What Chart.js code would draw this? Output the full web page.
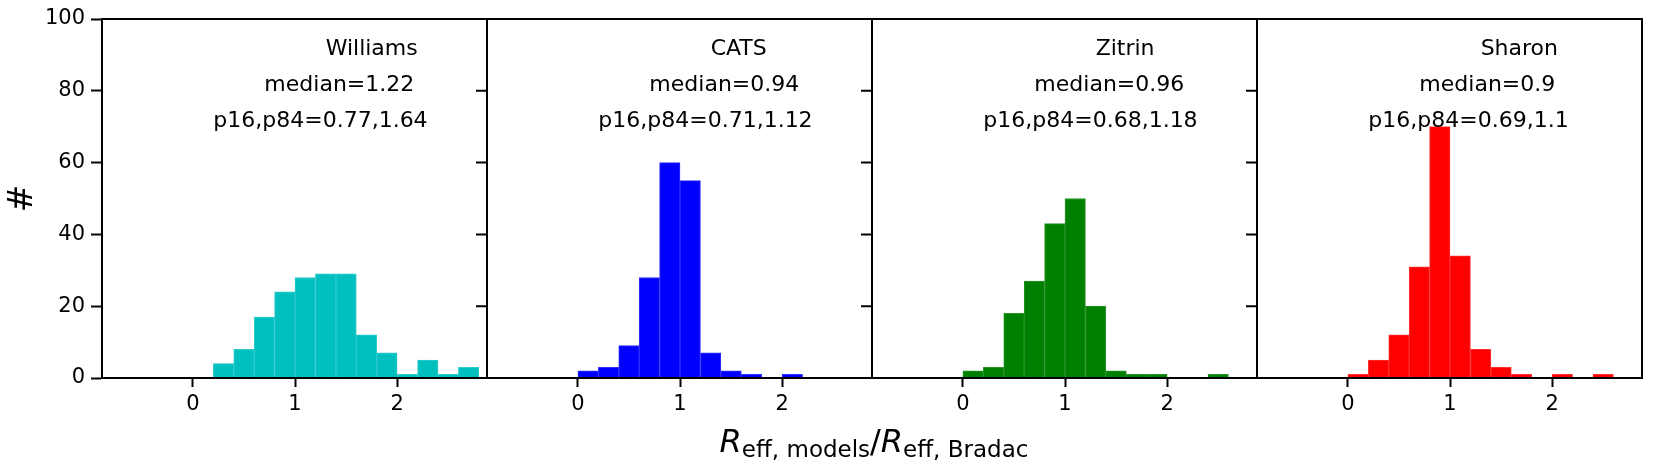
<!DOCTYPE html>
<html>
<head>
<meta charset="utf-8">
<script src="https://cdn.jsdelivr.net/npm/chart.js@4.4.1/dist/chart.umd.min.js"></script>
<style>
html,body{margin:0;padding:0;background:#fff;}
#wrap{width:1661px;height:468px;position:relative;}
</style>
</head>
<body>
<div id="wrap"><canvas id="c"></canvas></div>
<script>
// ---- data ----
const binCenters = [0.1, 0.3, 0.5, 0.7, 0.9, 1.1, 1.3, 1.5, 1.7, 1.9, 2.1, 2.3, 2.5, 2.7];
const williams = [0, 4, 8, 17, 24, 28, 29, 29, 12, 7, 1, 5, 1, 3];
const cats     = [2, 3, 9, 28, 60, 55, 7, 2, 1, 0, 1, 0, 0, 0];
const zitrin   = [2, 3, 18, 27, 43, 50, 20, 2, 1, 1, 0, 0, 1, 0];
const sharon   = [1, 5, 12, 31, 70, 34, 8, 3, 1, 0, 1, 0, 1, 0];
const panelNames = ['Williams', 'CATS', 'Zitrin', 'Sharon'];
const medianLabels = ['median=1.22', 'median=0.94', 'median=0.96', 'median=0.9'];
const pctLabels = ['p16,p84=0.77,1.64', 'p16,p84=0.71,1.12', 'p16,p84=0.68,1.18', 'p16,p84=0.69,1.1'];
const xTickValues = [0, 1, 2];
const yTickValues = [0, 20, 40, 60, 80, 100];
const seriesValues = [williams, cats, zitrin, sharon];

// ---- style ----
const panelColors = ['rgb(0,191,191)', 'rgb(0,0,255)', 'rgb(0,128,0)', 'rgb(255,0,0)'];
const seamColors = ['rgb(45,203,203)', 'rgb(50,50,255)', 'rgb(40,148,40)', 'rgb(255,50,50)'];
const FONT = "'DejaVu Sans', sans-serif";
const X_MIN = -0.89, X_MAX = 2.88;
const TEXT_POS = [{x: 1.3, y: 90}, {x: 0.7, y: 80}, {x: 0.2, y: 70}];

const datasets = seriesValues.map((vals, i) => ({
  label: panelNames[i],
  data: binCenters.map((x, j) => ({x: x, y: vals[j]})),
  xAxisID: 'x' + i,
  yAxisID: 'y',
  backgroundColor: panelColors[i],
  borderColor: seamColors[i],
  borderWidth: 1,
  barPercentage: 1,
  categoryPercentage: 1,
  grouped: false
}));

const scales = {
  y: {
    type: 'linear', position: 'left', min: 0, max: 100,
    afterBuildTicks: s => { s.ticks = yTickValues.map(v => ({value: v})); },
    ticks: {color: '#000', font: {family: FONT, size: 21}, padding: 6},
    grid: {drawOnChartArea: false, drawTicks: true, tickLength: 11, tickWidth: 2, tickColor: '#000'},
    border: {display: true, color: '#000', width: 2},
    title: {display: true, text: '#', color: '#000', font: {family: FONT, size: 33}, padding: {top: 4, bottom: 4}},
    afterFit: s => { s.width = 102; }
  }
};
for (let i = 0; i < 4; i++) {
  scales['x' + i] = {
    type: 'linear', position: 'bottom', stack: 'panels', stackWeight: 1,
    min: X_MIN, max: X_MAX, offset: false,
    afterBuildTicks: s => { s.ticks = xTickValues.map(v => ({value: v})); },
    ticks: {color: '#000', font: {family: FONT, size: 21}, padding: 5, maxRotation: 0, autoSkip: false},
    grid: {offset: false, drawOnChartArea: false, drawTicks: true, tickLength: 9, tickWidth: 2, tickColor: '#000'},
    border: {display: true, color: '#000', width: 2},
    afterFit: s => { s.height = 90; }
  };
}

const framePlugin = {
  id: 'frame',
  afterDatasetsDraw(chart) {
    const ctx = chart.ctx;
    const ys = chart.scales.y;
    const area = chart.chartArea;
    ctx.save();
    ctx.strokeStyle = '#000';
    ctx.lineWidth = 2;
    for (let i = 0; i < 4; i++) {
      const xs = chart.scales['x' + i];
      ctx.strokeRect(xs.left, area.top, xs.right - xs.left, area.bottom - area.top);
      if (i > 0) {
        ctx.beginPath();
        yTickValues.forEach(v => {
          const py = ys.getPixelForValue(v);
          ctx.moveTo(xs.left - 11, py);
          ctx.lineTo(xs.left, py);
        });
        ctx.stroke();
      }
    }
    ctx.fillStyle = '#000';
    ctx.font = '22px ' + FONT;
    ctx.textAlign = 'left';
    ctx.textBaseline = 'alphabetic';
    for (let i = 0; i < 4; i++) {
      const xs = chart.scales['x' + i];
      const texts = [panelNames[i], medianLabels[i], pctLabels[i]];
      texts.forEach((t, k) => {
        ctx.fillText(t, xs.getPixelForValue(TEXT_POS[k].x), ys.getPixelForValue(TEXT_POS[k].y));
      });
    }
    ctx.restore();
  },
  afterDraw(chart) {
    const ctx = chart.ctx;
    const area = chart.chartArea;
    const big = 'italic 32px ' + FONT;
    const bigUp = '32px ' + FONT;
    const small = '23px ' + FONT;
    const parts = [
      {t: 'R', f: big, dy: 0},
      {t: 'eff, models', f: small, dy: 5},
      {t: '/', f: bigUp, dy: 0},
      {t: 'R', f: big, dy: 0},
      {t: 'eff, Bradac', f: small, dy: 5}
    ];
    ctx.save();
    let total = 0;
    parts.forEach(p => { ctx.font = p.f; p.w = ctx.measureText(p.t).width; total += p.w; });
    let x = (area.left + area.right) / 2 + 2 - total / 2;
    const base = 452;
    ctx.fillStyle = '#000';
    ctx.textAlign = 'left';
    ctx.textBaseline = 'alphabetic';
    parts.forEach(p => {
      ctx.font = p.f;
      ctx.fillText(p.t, x, base + p.dy);
      x += p.w;
    });
    ctx.restore();
  }
};

new Chart(document.getElementById('c'), {
  type: 'bar',
  data: {datasets: datasets},
  options: {
    responsive: true,
    maintainAspectRatio: false,
    animation: false,
    layout: {padding: {top: 19, right: 19, bottom: 0, left: 0}},
    plugins: {legend: {display: false}, tooltip: {enabled: false}},
    scales: scales
  },
  plugins: [framePlugin]
});
</script>
</body>
</html>
